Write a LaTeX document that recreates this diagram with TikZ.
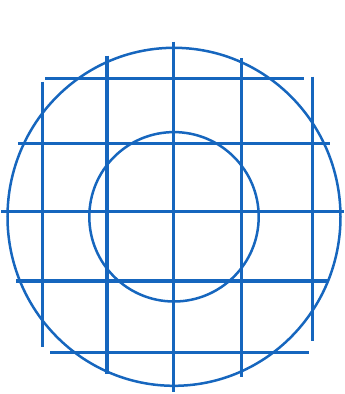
\documentclass[tikz,border=0pt]{standalone}
\usepackage{tikz}
\usepackage{xcolor}
\definecolor{gitterblau}{RGB}{22,102,190}

\begin{document}
\begin{tikzpicture}[x=1pt, y=-1pt,
    linie/.style={gitterblau, line width=3.4pt},   %Gitterlinien
    kreis/.style={gitterblau, line width=2.5pt}]
    %Bildbereich
    \useasboundingbox (0,0) rectangle (345,394);
    % Kreise zeichnen
    \coordinate (M) at (174,216.8);
    \draw[kreis] (M) ellipse [x radius=166.5, y radius=169];
    \draw[kreis] (M) circle [radius=84.7];
    % Senkrechte Linien
    \foreach \x/\a/\b in {42.7/81.7/347.3, 107/55.7/374, 173.7/41.7/391.7, 241.3/58.3/376.7, 312.3/76.7/341}
        \draw[linie] (\x,\a) -- (\x,\b);
    % Waagerechte Linien
    \foreach \y/\a/\b in {78.3/45/304, 143.3/18/330, 211.7/1/344, 281/16/328, 352.3/50/309}
        \draw[linie] (\a,\y) -- (\b,\y);
\end{tikzpicture}
\end{document}
